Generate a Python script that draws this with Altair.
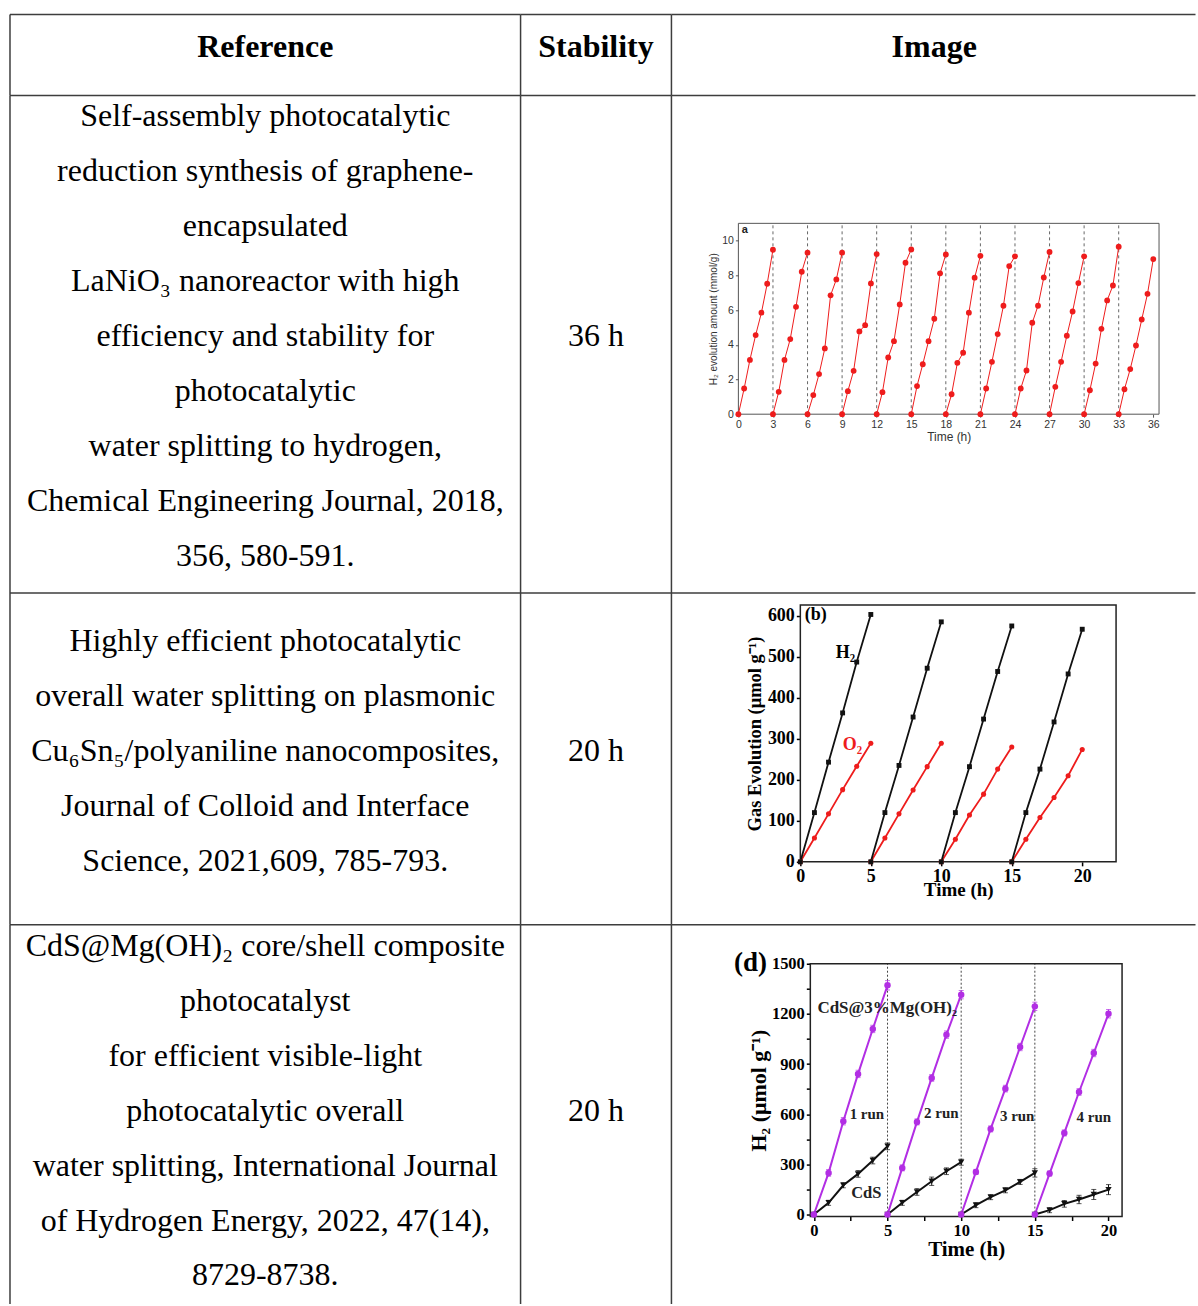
import altair as alt
import pandas as pd

SERIF = "Liberation Serif"
SANS = "Liberation Sans"
BORDER = "#3d3d3d"
RED = "#ee1c1c"
PURPLE = "#b22ee4"
INK = "#111111"

# ---------------- table text ----------------
HEADERS = ["Reference", "Stability", "Image"]
REFERENCES = [
    ["Self-assembly photocatalytic",
     "reduction synthesis of graphene-",
     "encapsulated",
     "LaNiO₃ nanoreactor with high",
     "efficiency and stability for",
     "photocatalytic",
     "water splitting to hydrogen,",
     "Chemical Engineering Journal, 2018,",
     "356, 580-591."],
    ["Highly efficient photocatalytic",
     "overall water splitting on plasmonic",
     "Cu₆Sn₅/polyaniline nanocomposites,",
     "Journal of Colloid and Interface",
     "Science, 2021,609, 785-793."],
    ["CdS@Mg(OH)₂ core/shell composite",
     "photocatalyst",
     "for efficient visible-light",
     "photocatalytic overall",
     "water splitting, International Journal",
     "of Hydrogen Energy, 2022, 47(14),",
     "8729-8738."],
]
STABILITY = ["36 h", "20 h", "20 h"]

# ---------------- panel (a): LaNiO3, 12 runs of 3 h ----------------
A_RUN_STARTS = [0, 3, 6, 9, 12, 15, 18, 21, 24, 27, 30, 33]
A_HOURS = [0, 0.5, 1, 1.5, 2, 2.5, 3]
A_H2 = [
    [0, 1.48, 3.13, 4.56, 5.85, 7.52, 9.48],
    [0, 1.29, 3.13, 4.33, 6.19, 8.21, 9.31],
    [0, 1.10, 2.31, 3.79, 6.85, 7.77, 9.31],
    [0, 1.33, 2.50, 4.77, 5.13, 7.54, 9.23],
    [0, 1.27, 3.27, 4.21, 6.33, 8.73, 9.50],
    [0, 1.62, 2.88, 4.21, 5.50, 8.12, 9.21],
    [0, 1.15, 2.96, 3.54, 5.85, 7.87, 9.13],
    [0, 1.48, 3.02, 4.62, 6.25, 8.54, 9.10],
    [0, 1.48, 2.52, 5.27, 6.25, 7.88, 9.35],
    [0, 1.58, 3.02, 4.52, 5.92, 7.56, 9.10],
    [0, 1.38, 2.92, 4.92, 6.56, 7.42, 9.65],
    [0, 1.44, 2.60, 3.96, 5.46, 6.94, 8.94],
]
A_X_TICKS = [0, 3, 6, 9, 12, 15, 18, 21, 24, 27, 30, 33, 36]
A_Y_TICKS = [0, 2, 4, 6, 8, 10]

# ---------------- panel (b): Cu6Sn5/PANI, 4 runs of 5 h ----------------
B_RUN_STARTS = [0, 5, 10, 15]
B_HOURS = [0, 1, 2, 3, 4, 5]
B_H2 = [
    [0, 120, 243, 363, 487, 603],
    [0, 120, 235, 353, 472, 585],
    [0, 120, 232, 348, 464, 575],
    [0, 120, 226, 341, 458, 567],
]
B_O2 = [
    [0, 58, 117, 176, 233, 289],
    [0, 58, 117, 175, 232, 289],
    [0, 55, 114, 165, 226, 280],
    [0, 55, 108, 157, 210, 274],
]
B_X_TICKS = [0, 5, 10, 15, 20]
B_Y_TICKS = [0, 100, 200, 300, 400, 500, 600]

# ---------------- panel (d): CdS@Mg(OH)2, 4 runs of 5 h ----------------
D_RUN_STARTS = [0, 5, 10, 15]
D_HOURS = [0, 1, 2, 3, 4, 5]
D_MG = [
    [0, 249, 558, 841, 1110, 1371],
    [0, 279, 554, 817, 1076, 1315],
    [0, 255, 512, 753, 1002, 1245],
    [0, 245, 488, 733, 966, 1201],
]
D_MG_ERR = [
    [0, 20, 22, 22, 22, 28],
    [0, 18, 18, 20, 22, 25],
    [0, 15, 18, 20, 22, 25],
    [0, 15, 18, 20, 22, 25],
]
D_CDS = [
    [0, 70, 175, 243, 323, 408],
    [0, 70, 135, 199, 259, 313],
    [0, 56, 104, 145, 195, 249],
    [0, 26, 64, 90, 120, 149],
]
D_CDS_ERR = [
    [0, 15, 15, 20, 20, 20],
    [0, 15, 20, 25, 20, 18],
    [0, 15, 15, 15, 15, 25],
    [0, 15, 20, 25, 30, 30],
]
D_X_TICKS = [0, 2.5, 5, 7.5, 10, 12.5, 15, 17.5, 20]
D_Y_TICKS = [0, 150, 300, 450, 600, 750, 900, 1050, 1200, 1350, 1500]
D_RUN_LABELS = ["1 run", "2 run", "3 run", "4 run"]

# ---------------- table geometry ----------------
COL_W = [511, 151, 526]
ROW_H = [81, 498, 332, 381]
LINE_PITCH = 55
BODY_SIZE = 32
RULE_W = 1.5


def runs_frame(starts, hours, values, errs=None):
    rows = []
    for k, (s, vals) in enumerate(zip(starts, values)):
        for j, (h, v) in enumerate(zip(hours, vals)):
            row = {"run": k, "t": s + h, "v": v}
            if errs is not None:
                e = errs[k][j]
                row.update({"e": e, "lo": v - e, "hi": v + e})
            rows.append(row)
    return pd.DataFrame(rows)


def cell_borders(width, height, last_col=False, last_row=False):
    """Top and left rules of a table cell; the open right/bottom edges of the
    table are left undrawn and kept inside the page."""
    x_end = width - RULE_W if last_col else width
    y_end = height - RULE_W if last_row else height
    base = alt.Chart(pd.DataFrame({"k": [0]}))
    top = base.mark_rule(color=BORDER, strokeWidth=RULE_W).encode(
        x=alt.value(0), x2=alt.value(x_end), y=alt.value(0))
    left = base.mark_rule(color=BORDER, strokeWidth=RULE_W).encode(
        x=alt.value(0), y=alt.value(0), y2=alt.value(y_end))
    return [top, left]


def text_cell(lines, width, height, bold=False, center_y=None, last_row=False):
    n = len(lines)
    mid = height / 2 - 8 if center_y is None else center_y
    y0 = mid - (n - 1) * LINE_PITCH / 2
    df = pd.DataFrame({"line": lines, "i": list(range(n))})
    txt = (
        alt.Chart(df)
        .transform_calculate(py=f"{y0} + datum.i * {LINE_PITCH}")
        .mark_text(font=SERIF, fontSize=BODY_SIZE, fontWeight="bold" if bold else "normal",
                   align="center", baseline="middle", color="black")
        .encode(x=alt.value(width / 2), y=alt.Y("py:Q", scale=None), text="line:N")
    )
    return alt.layer(*cell_borders(width, height, last_row=last_row), txt).properties(
        width=width, height=height)


def frame_layer(xd, yd, xs, ys, ax_x, ax_y, color, width):
    df = pd.DataFrame({"x0": [xd[0]], "x1": [xd[1]], "y0": [yd[0]], "y1": [yd[1]]})
    return alt.Chart(df).mark_rect(filled=False, color=color, strokeWidth=width).encode(
        x=alt.X("x0:Q", scale=xs, axis=ax_x), x2="x1:Q",
        y=alt.Y("y0:Q", scale=ys, axis=ax_y), y2="y1:Q",
    )


def guide_rules(ticks, yd, xs, ys, ax_x, ax_y, color, dash, width):
    df = pd.DataFrame({"t": ticks, "lo": yd[0], "hi": yd[1]})
    return alt.Chart(df).mark_rule(color=color, strokeDash=dash, strokeWidth=width).encode(
        x=alt.X("t:Q", scale=xs, axis=ax_x),
        y=alt.Y("lo:Q", scale=ys, axis=ax_y), y2="hi:Q",
    )


def notes(df, xs, ys, ax_x, ax_y, **mark):
    return alt.Chart(df).mark_text(**mark).encode(
        x=alt.X("x:Q", scale=xs, axis=ax_x),
        y=alt.Y("y:Q", scale=ys, axis=ax_y),
        text="s:N",
    )


# ---------------- panel (a) ----------------
def panel_a(width, height, last_row=False):
    xd, yd = [0, 36.5], [0, 11]
    xs = alt.Scale(domain=xd, range=[67, 488], nice=False, zero=False)
    ys = alt.Scale(domain=yd, range=[319, 128], nice=False, zero=False)
    common = dict(grid=False, domain=False, tickSize=3, tickColor="#555", tickWidth=1,
                  labelFont=SANS, labelFontSize=10.5, labelColor="#333",
                  labelFlush=False, labelOverlap=False, labelPadding=2,
                  titleFont=SANS, titleFontWeight="normal", titleColor="#333")
    ax_x = alt.Axis(values=A_X_TICKS, title="Time (h)", offset=319 - height,
                    titleFontSize=12, titlePadding=2, **common)
    ax_y = alt.Axis(values=A_Y_TICKS, title="H₂ evolution amount (mmol/g)", offset=-67,
                    titleFontSize=10, titlePadding=3, **common)
    df = runs_frame(A_RUN_STARTS, A_HOURS, A_H2)
    enc = dict(x=alt.X("t:Q", scale=xs, axis=ax_x), y=alt.Y("v:Q", scale=ys, axis=ax_y))
    line = alt.Chart(df).mark_line(color=RED, strokeWidth=1).encode(detail="run:N", **enc)
    pts = alt.Chart(df).mark_circle(color=RED, size=34, opacity=1).encode(**enc)
    label = notes(pd.DataFrame({"x": [0.3], "y": [10.6], "s": ["a"]}), xs, ys, ax_x, ax_y,
                  font=SANS, fontSize=11, fontWeight="bold", align="left",
                  baseline="middle", color="#222")
    return alt.layer(
        *cell_borders(width, height, last_col=True, last_row=last_row),
        guide_rules(A_RUN_STARTS[1:], yd, xs, ys, ax_x, ax_y, "#666", [3, 3], 1),
        frame_layer(xd, yd, xs, ys, ax_x, ax_y, "#555", 1),
        line, pts, label,
    ).properties(width=width, height=height)


# ---------------- panel (b) ----------------
def panel_b(width, height, last_row=False):
    xd, yd = [0, 22.4], [0, 626]
    xs = alt.Scale(domain=xd, range=[129, 445], nice=False, zero=False)
    ys = alt.Scale(domain=yd, range=[269, 12], nice=False, zero=False)
    common = dict(grid=False, domain=False, tickSize=4, tickColor="black", tickWidth=1.5,
                  labelFont=SERIF, labelFontSize=18, labelFontWeight="bold", labelColor="black",
                  labelFlush=False, labelOverlap=False, labelPadding=2,
                  titleFont=SERIF, titleFontWeight="bold", titleColor="black")
    ax_x = alt.Axis(values=B_X_TICKS, title="Time (h)", offset=269 - height,
                    titleFontSize=19, titlePadding=-5, **common)
    ax_y = alt.Axis(values=B_Y_TICKS, title="Gas Evolution (μmol g⁻¹)", offset=-129,
                    titleFontSize=18.5, titlePadding=3, **common)
    h2 = runs_frame(B_RUN_STARTS, B_HOURS, B_H2)
    o2 = runs_frame(B_RUN_STARTS, B_HOURS, B_O2)
    enc = dict(x=alt.X("t:Q", scale=xs, axis=ax_x), y=alt.Y("v:Q", scale=ys, axis=ax_y))
    layers = [
        *cell_borders(width, height, last_col=True, last_row=last_row),
        frame_layer(xd, yd, xs, ys, ax_x, ax_y, "#222", 1.5),
        alt.Chart(o2).mark_line(color=RED, strokeWidth=1.8).encode(detail="run:N", **enc),
        alt.Chart(h2).mark_line(color=INK, strokeWidth=1.8).encode(detail="run:N", **enc),
        alt.Chart(o2).mark_circle(color=RED, size=26, opacity=1).encode(**enc),
        alt.Chart(h2).mark_square(color=INK, size=24, opacity=1).encode(**enc),
        notes(pd.DataFrame({"x": [1.1], "y": [602], "s": ["(b)"]}), xs, ys, ax_x, ax_y,
              font=SERIF, fontSize=18, fontWeight="bold", color="black"),
        notes(pd.DataFrame({"x": [3.2], "y": [509], "s": ["H₂"]}), xs, ys, ax_x, ax_y,
              font=SERIF, fontSize=18, fontWeight="bold", color="black"),
        notes(pd.DataFrame({"x": [3.7], "y": [285], "s": ["O₂"]}), xs, ys, ax_x, ax_y,
              font=SERIF, fontSize=18, fontWeight="bold", color=RED),
    ]
    return alt.layer(*layers).properties(width=width, height=height)


# ---------------- panel (d) ----------------
def panel_d(width, height, last_row=False):
    xd, yd = [-0.24, 20.92], [-12, 1500]
    xs = alt.Scale(domain=xd, range=[139, 451], nice=False, zero=False)
    ys = alt.Scale(domain=yd, range=[292, 39], nice=False, zero=False)
    common = dict(grid=False, domain=False, tickSize=4, tickColor="black", tickWidth=1.5,
                  labelFont=SERIF, labelFontSize=16.5, labelFontWeight="bold", labelColor="black",
                  labelFlush=False, labelOverlap=False, labelPadding=2, format="d",
                  titleFont=SERIF, titleFontWeight="bold", titleColor="black")
    ax_x = alt.Axis(values=D_X_TICKS, title="Time (h)", offset=292 - height,
                    labelExpr="datum.value % 5 == 0 ? datum.label : ''",
                    titleFontSize=21, titlePadding=0, **common)
    ax_y = alt.Axis(values=D_Y_TICKS, title="H₂ (μmol g⁻¹)", offset=-139,
                    labelExpr="datum.value % 300 == 0 ? datum.label : ''",
                    titleFontSize=22, titlePadding=1, **common)
    mg = runs_frame(D_RUN_STARTS, D_HOURS, D_MG, D_MG_ERR)
    cds = runs_frame(D_RUN_STARTS, D_HOURS, D_CDS, D_CDS_ERR)
    enc = dict(x=alt.X("t:Q", scale=xs, axis=ax_x), y=alt.Y("v:Q", scale=ys, axis=ax_y))

    def bars(df, color):
        return alt.Chart(df[df["e"] > 0]).mark_errorbar(ticks=True, color=color).encode(
            x=alt.X("t:Q", scale=xs, axis=ax_x),
            y=alt.Y("lo:Q", scale=ys, axis=ax_y), y2="hi:Q",
        )

    run_x = [3.6, 8.65, 13.8, 19.0]
    run_y = [604, 610, 592, 586]
    layers = [
        *cell_borders(width, height, last_col=True, last_row=last_row),
        guide_rules(D_RUN_STARTS[1:], yd, xs, ys, ax_x, ax_y, "#444", [2, 2], 1),
        frame_layer(xd, yd, xs, ys, ax_x, ax_y, "#222", 1.5),
        alt.Chart(cds).mark_line(color=INK, strokeWidth=2).encode(detail="run:N", **enc),
        alt.Chart(mg).mark_line(color=PURPLE, strokeWidth=2).encode(detail="run:N", **enc),
        bars(cds, INK),
        bars(mg, PURPLE),
        alt.Chart(cds).mark_point(shape="triangle-down", filled=True, color=INK, size=40,
                                  opacity=1).encode(**enc),
        alt.Chart(mg).mark_circle(color=PURPLE, size=42, opacity=1).encode(**enc),
        notes(pd.DataFrame({"x": [-4.3], "y": [1503], "s": ["(d)"]}), xs, ys, ax_x, ax_y,
              font=SERIF, fontSize=27, fontWeight="bold", color="black"),
        notes(pd.DataFrame({"x": [4.98], "y": [1237], "s": ["CdS@3%Mg(OH)₂"]}), xs, ys, ax_x,
              ax_y, font=SERIF, fontSize=17, fontWeight="bold", color="#222"),
        notes(pd.DataFrame({"x": run_x, "y": run_y, "s": D_RUN_LABELS}), xs, ys, ax_x, ax_y,
              font=SERIF, fontSize=15, fontWeight="bold", color="#222"),
        notes(pd.DataFrame({"x": [3.56], "y": [131], "s": ["CdS"]}), xs, ys, ax_x, ax_y,
              font=SERIF, fontSize=16.5, fontWeight="bold", color="#222"),
    ]
    return alt.layer(*layers).properties(width=width, height=height)


def header_cell(text, c):
    cell = text_cell([text], COL_W[c], ROW_H[0], bold=True)
    if c == 2:
        # the rightmost top rule stops short of the page edge
        n_layers = cell.layer
        n_layers[0] = cell_borders(COL_W[c], ROW_H[0], last_col=True)[0]
    return cell


# Flat 3-column grid of cells; each cell draws its own top and left rules.
cells = [header_cell(h, c) for c, h in enumerate(HEADERS)]
panels = [panel_a, panel_b, panel_d]
for r in range(3):
    h = ROW_H[r + 1]
    last = r == 2
    mid = 186 if last else None
    cells += [
        text_cell(REFERENCES[r], COL_W[0], h, center_y=mid, last_row=last),
        text_cell([STABILITY[r]], COL_W[1], h, center_y=mid, last_row=last),
        panels[r](COL_W[2], h, last_row=last),
    ]

chart = (
    alt.concat(*cells, columns=3, spacing=0, bounds="flush")
    .resolve_scale(x="independent", y="independent")
    .properties(padding={"left": 8, "top": 12, "right": 0, "bottom": 0})
    .configure_view(stroke="transparent")
    .configure_concat(spacing=0)
)

chart.save("out.html", embed_options={"renderer": "svg", "actions": False})
